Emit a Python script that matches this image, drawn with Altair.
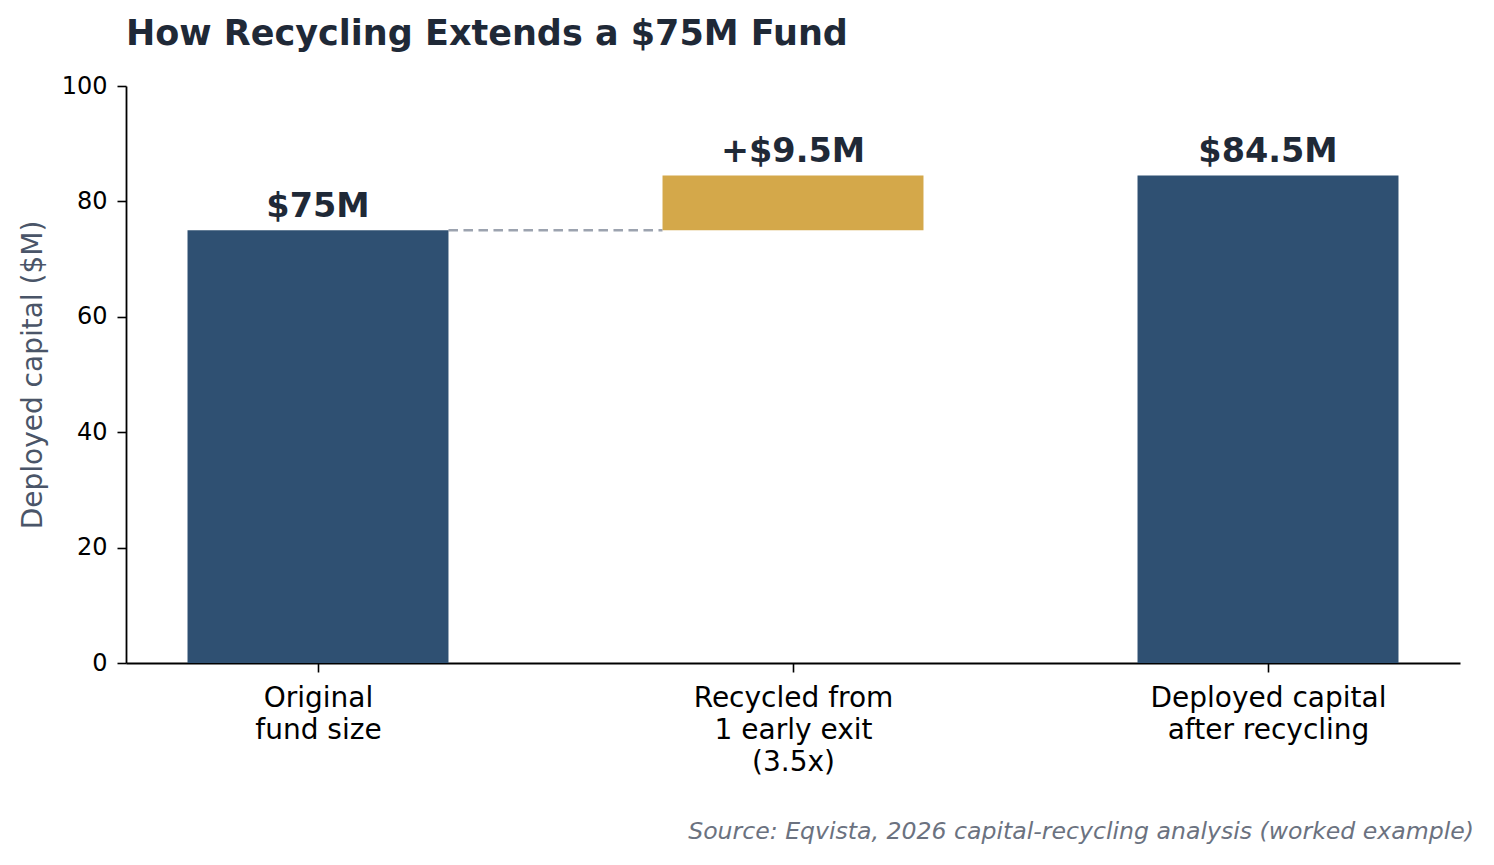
import altair as alt
import pandas as pd

# ---- data ----
categories = ["Original fund size", "Recycled from 1 early exit (3.5x)", "Deployed capital after recycling"]
label_lines = [["Original", "fund size"], ["Recycled from", "1 early exit", "(3.5x)"], ["Deployed capital", "after recycling"]]
bar_start = [0, 75, 0]
bar_end = [75, 84.5, 84.5]
bar_labels = ["$75M", "+$9.5M", "$84.5M"]
bar_kind = ["total", "increment", "total"]

connector_from = [0]
connector_to = [1]
connector_level = [75]

y_ticks = [0, 20, 40, 60, 80, 100]

FONT = "DejaVu Sans"
NAVY = "#2f5072"
GOLD = "#d4a84a"
INK = "#1f2937"
HALF = 0.2747

bars_df = pd.DataFrame({
    "idx": list(range(len(categories))),
    "category": categories,
    "start": bar_start,
    "end": bar_end,
    "label": bar_labels,
    "kind": bar_kind,
})
conn_df = pd.DataFrame({"src": connector_from, "dst": connector_to, "level": connector_level})

label_expr = "[" + ",".join("[" + ",".join("'" + s + "'" for s in lines) + "]" for lines in label_lines) + "][datum.value]"

x_scale = alt.Scale(domain=[-0.4042, 2.4042], nice=False, zero=False)
y_scale = alt.Scale(domain=[0, 100], nice=False)

x_axis = alt.Axis(
    values=[0, 1, 2], labelExpr=label_expr, title=None, grid=False,
    labelFont=FONT, labelFontSize=28, labelColor="#000000", labelLineHeight=32,
    labelPadding=12, labelLimit=0, tickSize=9, tickWidth=1.6, tickColor="#000000",
    domainColor="#000000", domainWidth=1.8, labelAngle=0, labelAlign="center",
)
y_axis = alt.Axis(
    values=y_ticks, title="Deployed capital ($M)", grid=False,
    labelFont=FONT, labelFontSize=24, labelColor="#000000", labelPadding=10,
    tickSize=9, tickWidth=1.6, tickColor="#000000",
    domainColor="#000000", domainWidth=1.8,
    titleFont=FONT, titleFontSize=28, titleFontWeight="normal", titleColor="#4a5568",
    titleAngle=270, titleBaseline="alphabetic", titleX=-85, titleY=288.5, titleAlign="center",
)

base = alt.Chart(bars_df).transform_calculate(
    x_lo=f"datum.idx - {HALF}", x_hi=f"datum.idx + {HALF}"
)

bars = base.mark_bar(cornerRadius=0).encode(
    x=alt.X("x_lo:Q", scale=x_scale, axis=x_axis),
    x2="x_hi:Q",
    y=alt.Y("start:Q", scale=y_scale, axis=y_axis),
    y2="end:Q",
    color=alt.Color("kind:N", scale=alt.Scale(domain=["total", "increment"], range=[NAVY, GOLD]), legend=None),
)

texts = base.mark_text(font=FONT, fontSize=33.5, fontWeight="bold", color=INK,
                       baseline="alphabetic", align="center", dy=-13).encode(
    x=alt.X("idx:Q", scale=x_scale),
    y=alt.Y("end:Q", scale=y_scale),
    text="label:N",
)

connector = alt.Chart(conn_df).transform_calculate(
    x_a=f"datum.src + {HALF}", x_b=f"datum.dst - {HALF}"
).mark_rule(color="#9ca3af", strokeWidth=2.4, strokeDash=[9.5, 5.5]).encode(
    x=alt.X("x_a:Q", scale=x_scale),
    x2="x_b:Q",
    y=alt.Y("level:Q", scale=y_scale),
)

source = alt.Chart(pd.DataFrame({"t": ["Source: Eqvista, 2026 capital-recycling analysis (worked example)"]})).mark_text(
    font=FONT, fontSize=23.6, fontStyle="italic", color="#6b7280", align="right", baseline="alphabetic"
).encode(
    x=alt.value(1348), y=alt.value(753), text="t:N"
)

chart = alt.layer(connector, bars, texts, source).properties(
    width=1334, height=577,
    title=alt.TitleParams(
        "How Recycling Extends a $75M Fund", anchor="start", frame="group",
        font=FONT, fontSize=35, fontWeight="bold", color=INK,
        baseline="alphabetic", offset=28, dy=34,
    ),
    autosize=alt.AutoSizeParams(type="none"),
    padding={"left": 118, "top": 78, "right": 18, "bottom": 190},
).configure(background="white").configure_view(strokeWidth=0, stroke=None)

chart.save("out.html", embed_options={"renderer": "svg", "actions": False})
